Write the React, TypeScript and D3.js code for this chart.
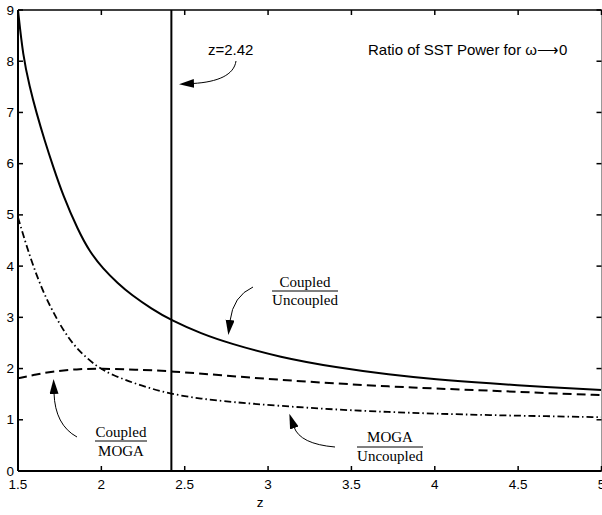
import React from "react";
import * as d3 from "d3";

const xTicks = [1.5, 2, 2.5, 3, 3.5, 4, 4.5, 5];
const xTickLabels = ["1.5", "2", "2.5", "3", "3.5", "4", "4.5", "5"];
const yTicks = [0, 1, 2, 3, 4, 5, 6, 7, 8, 9];

const coupledUncoupledZ = [1.5, 1.53, 1.57, 1.61, 1.66, 1.71, 1.77, 1.86, 1.93, 2.01, 2.1, 2.18, 2.3, 2.42, 2.6, 2.77, 3.07, 3.41, 3.73, 4.0, 4.33, 4.67, 5.0];
const coupledUncoupled = [9.0, 8.1, 7.5, 7.0, 6.45, 5.95, 5.38, 4.7, 4.28, 3.95, 3.66, 3.44, 3.17, 2.94, 2.68, 2.49, 2.22, 2.02, 1.88, 1.79, 1.71, 1.64, 1.58];

const coupledMogaZ = [1.5, 1.6, 1.7, 1.85, 2.0, 2.2, 2.42, 2.75, 3.07, 3.4, 3.73, 4.0, 4.33, 4.67, 5.0];
const coupledMoga = [1.81, 1.88, 1.94, 1.99, 2.0, 1.98, 1.95, 1.86, 1.78, 1.71, 1.65, 1.61, 1.57, 1.52, 1.48];

const mogaUncoupledZ = [1.5, 1.53, 1.59, 1.67, 1.78, 1.86, 1.97, 2.06, 2.24, 2.42, 2.6, 2.77, 3.07, 3.4, 3.73, 4.0, 4.33, 4.67, 5.0];
const mogaUncoupled = [4.95, 4.62, 4.0, 3.34, 2.69, 2.36, 2.04, 1.88, 1.66, 1.5, 1.41, 1.35, 1.27, 1.2, 1.15, 1.12, 1.09, 1.07, 1.05];

const markerZ = 2.42;

const W = 602;
const H = 515;
const left = 18;
const right = 601.5;
const top = 10;
const bottom = 471;

export default function App() {
  const x = d3.scaleLinear().domain([1.5, 5]).range([left, right]);
  const y = d3.scaleLinear().domain([0, 9]).range([bottom, top]);
  const line = d3
    .line<[number, number]>()
    .x((d) => x(d[0]))
    .y((d) => y(d[1]))
    .curve(d3.curveBasis);
  const zip = (a: number[], b: number[]) => a.map((v, i) => [v, b[i]] as [number, number]);
  const sans = "'Liberation Sans', Arial, Helvetica, sans-serif";
  const serif = "'Liberation Serif', 'Times New Roman', serif";
  const tick = 5;

  return (
    <svg
      width={W}
      height={H}
      style={{ position: "absolute", left: 0, top: 0, display: "block", background: "#fff" }}
    >
      <defs>
        <marker
          id="ah"
          markerUnits="userSpaceOnUse"
          markerWidth={16}
          markerHeight={10}
          refX={1}
          refY={4.5}
          orient="auto"
        >
          <path d="M0,0 L15,4.5 L0,9 Z" fill="#000" />
        </marker>
      </defs>

      {/* curves */}
      <path d={line(zip(coupledUncoupledZ, coupledUncoupled)) || ""} fill="none" stroke="#000" strokeWidth={2} />
      <path
        d={line(zip(coupledMogaZ, coupledMoga)) || ""}
        fill="none"
        stroke="#000"
        strokeWidth={2}
        strokeDasharray="9,5"
      />
      <path
        d={line(zip(mogaUncoupledZ, mogaUncoupled)) || ""}
        fill="none"
        stroke="#000"
        strokeWidth={1.8}
        strokeDasharray="7,3,1.5,3"
      />

      {/* vertical marker line */}
      <line x1={x(markerZ)} x2={x(markerZ)} y1={top} y2={bottom} stroke="#000" strokeWidth={2} />

      {/* frame */}
      <line x1={left} x2={right} y1={top} y2={top} stroke="#000" strokeWidth={1.5} />
      <line x1={left} x2={right} y1={bottom} y2={bottom} stroke="#000" strokeWidth={2} />
      <line x1={left} x2={left} y1={top} y2={bottom} stroke="#000" strokeWidth={2} />
      <line x1={right} x2={right} y1={top} y2={bottom} stroke="#999" strokeWidth={1} />

      {/* x ticks */}
      {xTicks.map((t, i) => (
        <g key={"x" + i}>
          <line x1={x(t)} x2={x(t)} y1={bottom} y2={bottom - tick} stroke="#000" strokeWidth={1.5} />
          <line x1={x(t)} x2={x(t)} y1={top} y2={top + tick} stroke="#000" strokeWidth={1.5} />
          <text
            x={x(t)}
            y={489}
            textAnchor="middle"
            fontFamily={sans}
            fontSize={13.5}
            fill="#000"
          >
            {xTickLabels[i]}
          </text>
        </g>
      ))}

      {/* y ticks */}
      {yTicks.map((t, i) => (
        <g key={"y" + i}>
          <line x1={left} x2={left + tick} y1={y(t)} y2={y(t)} stroke="#000" strokeWidth={1.5} />
          <line x1={right} x2={right - tick} y1={y(t)} y2={y(t)} stroke="#000" strokeWidth={1.5} />
          <text
            x={14}
            y={y(t) + 4.5}
            textAnchor="end"
            fontFamily={sans}
            fontSize={13.5}
            fill="#000"
          >
            {t}
          </text>
        </g>
      ))}

      {/* axis label */}
      <text x={260} y={507} textAnchor="middle" fontFamily={sans} fontSize={13.5} fill="#000">
        z
      </text>

      {/* annotations */}
      <text x={208} y={55} fontFamily={sans} fontSize={15} fill="#000">
        z=2.42
      </text>
      <path d="M236,61 C234,75 218,82 193,83.5" fill="none" stroke="#000" strokeWidth={1} markerEnd="url(#ah)" />

      <text x={368} y={55} fontFamily={sans} fontSize={15} fill="#000">
        Ratio of SST Power for ω⟶0
      </text>

      {/* Coupled / Uncoupled */}
      <text x={305} y={287} textAnchor="middle" fontFamily={serif} fontSize={15} fill="#000">
        Coupled
      </text>
      <line x1={272} x2={338} y1={291} y2={291} stroke="#000" strokeWidth={1} />
      <text x={305} y={305} textAnchor="middle" fontFamily={serif} fontSize={15} fill="#000">
        Uncoupled
      </text>
      <path d="M253,287 Q233,296 230,321" fill="none" stroke="#000" strokeWidth={1} markerEnd="url(#ah)" />

      {/* Coupled / MOGA */}
      <text x={121} y={437} textAnchor="middle" fontFamily={serif} fontSize={15} fill="#000">
        Coupled
      </text>
      <line x1={95} x2={147} y1={441} y2={441} stroke="#000" strokeWidth={1} />
      <text x={121} y={456} textAnchor="middle" fontFamily={serif} fontSize={15} fill="#000">
        MOGA
      </text>
      <path d="M77,437 Q55,425 54,393" fill="none" stroke="#000" strokeWidth={1} markerEnd="url(#ah)" />

      {/* MOGA / Uncoupled */}
      <text x={390} y={442} textAnchor="middle" fontFamily={serif} fontSize={15} fill="#000">
        MOGA
      </text>
      <line x1={357} x2={423} y1={447} y2={447} stroke="#000" strokeWidth={1} />
      <text x={390} y={461} textAnchor="middle" fontFamily={serif} fontSize={15} fill="#000">
        Uncoupled
      </text>
      <path d="M335,447 Q300,444 294,427" fill="none" stroke="#000" strokeWidth={1} markerEnd="url(#ah)" />
    </svg>
  );
}
